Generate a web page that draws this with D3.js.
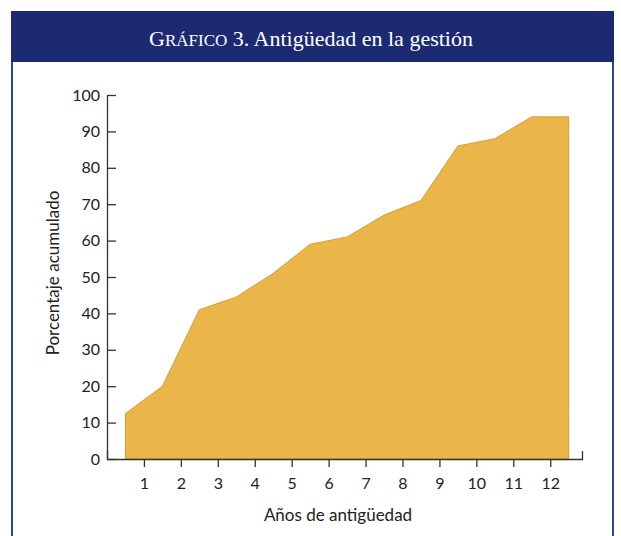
<!DOCTYPE html>
<meta charset="utf-8">
<title>Antigüedad en la gestión</title>
<style>
body { margin: 0; background: #fff; }
svg { display: block; }
.tick text { font-family: Lato, "Open Sans", sans-serif; }
</style>
<body>
<div id="chart"></div>
<script src="https://d3js.org/d3.v7.min.js"></script>
<script>
// years of tenure (boundaries) and cumulative percentage
var years = [0.5, 1.5, 2.5, 3.5, 4.5, 5.5, 6.5, 7.5, 8.5, 9.5, 10.5, 11.5, 12.5];
var cumPct = [12.5, 20, 41, 44.5, 51, 59, 61, 67, 71, 86, 88, 94, 94];
var xTicks = [1, 2, 3, 4, 5, 6, 7, 8, 9, 10, 11, 12];
var xLabels = ["1", "2", "3", "4", "5", "6", "7", "8", "9", "10", "11", "12"];
var yTicks = [0, 10, 20, 30, 40, 50, 60, 70, 80, 90, 100];

var W = 621, H = 536;
var svg = d3.select("#chart").append("svg")
    .attr("width", W).attr("height", H);

// frame + title bar
svg.append("path")
    .attr("d", "M12,536 V12 H613 V536")
    .attr("fill", "none")
    .attr("stroke", "#33449a")
    .attr("stroke-width", 2);
svg.append("rect")
    .attr("x", 11).attr("y", 11).attr("width", 603).attr("height", 51)
    .attr("fill", "#1c2a72");

var title = svg.append("text")
    .attr("x", 311).attr("y", 46)
    .attr("text-anchor", "middle")
    .attr("fill", "#fff")
    .style("font-family", "'Liberation Serif', 'DejaVu Serif', serif")
    .style("font-size", "22px");
title.append("tspan").text("G");
title.append("tspan").style("font-size", "17px").text("RÁFICO");
title.append("tspan").text(" 3. Antigüedad en la gestión");

var x = d3.scaleLinear().domain([0, 12.86]).range([107, 582]);
var y = d3.scaleLinear().domain([0, 100]).range([459, 95]);

var area = d3.area()
    .x(function(d, i) { return x(years[i]); })
    .y0(y(0))
    .y1(function(d) { return y(d); });

svg.append("path")
    .datum(cumPct)
    .attr("d", area)
    .attr("fill", "#eab64a")
    .attr("stroke", "#d89e2e")
    .attr("stroke-width", 1);

// y axis, ticks pointing inward
var yAxis = svg.append("g")
    .attr("transform", "translate(107,0)")
    .call(d3.axisRight(y).tickValues(yTicks).tickSize(9).tickSizeOuter(0));
yAxis.selectAll(".tick text")
    .attr("x", -7)
    .attr("text-anchor", "end")
    .style("font-size", "16px")
    .attr("fill", "#222");

// x axis
var xAxis = svg.append("g")
    .attr("transform", "translate(0,459)")
    .call(d3.axisBottom(x).tickValues(xTicks)
      .tickFormat(function(d, i) { return xLabels[i]; })
      .tickSize(8).tickSizeOuter(-8));
xAxis.selectAll(".tick text")
    .attr("dy", "1.2em")
    .style("font-size", "16px")
    .attr("fill", "#222");

svg.selectAll(".domain, .tick line")
    .attr("stroke", "#333")
    .attr("stroke-width", 1.3);

svg.append("text")
    .attr("x", 338).attr("y", 521)
    .attr("text-anchor", "middle")
    .style("font-family", "Lato, 'Open Sans', sans-serif")
    .style("font-size", "17px")
    .attr("fill", "#222")
    .text("Años de antigüedad");

svg.append("text")
    .attr("transform", "translate(59,273) rotate(-90)")
    .attr("text-anchor", "middle")
    .style("font-family", "Lato, 'Open Sans', sans-serif")
    .style("font-size", "17px")
    .attr("fill", "#222")
    .text("Porcentaje acumulado");
</script>
</body>
